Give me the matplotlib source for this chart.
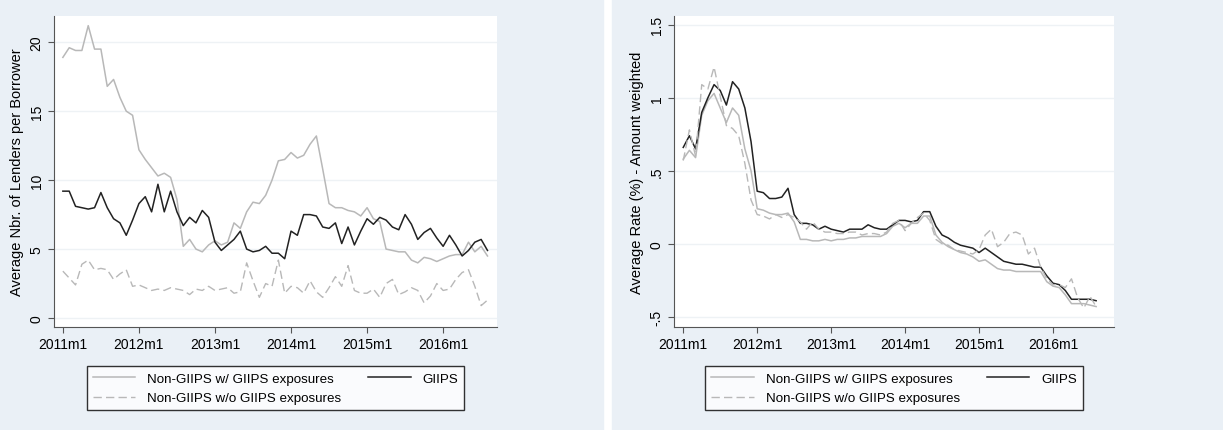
import matplotlib
matplotlib.use("Agg")
import matplotlib.pyplot as plt
import numpy as np

plt.rcParams['font.family'] = ['Liberation Sans', 'DejaVu Sans']

# monthly, 2011m1 .. 2016m8
lenders_with = [18.9, 19.6, 19.4, 19.4, 21.2, 19.5, 19.5, 16.8, 17.3, 16.0, 15.0, 14.7,
                12.2, 11.5, 10.9, 10.3, 10.5, 10.2, 8.6, 5.2, 5.7, 5.0, 4.8, 5.3,
                5.6, 5.3, 5.5, 6.9, 6.5, 7.7, 8.4, 8.3, 8.9, 10.0, 11.4, 11.5,
                12.0, 11.6, 11.8, 12.6, 13.2, 10.8, 8.3, 8.0, 8.0, 7.8, 7.7, 7.4,
                8.0, 7.2, 7.0, 5.0, 4.9, 4.8, 4.8, 4.2, 4.0, 4.4, 4.3, 4.1,
                4.3, 4.5, 4.6, 4.6, 5.5, 4.8, 5.2, 4.5]
lenders_giips = [9.2, 9.2, 8.1, 8.0, 7.9, 8.0, 9.1, 8.0, 7.2, 6.9, 6.0, 7.1,
                 8.3, 8.8, 7.7, 9.7, 7.7, 9.2, 7.7, 6.7, 7.3, 6.9, 7.8, 7.3,
                 5.5, 4.9, 5.3, 5.7, 6.3, 5.0, 4.8, 4.9, 5.2, 4.7, 4.7, 4.3,
                 6.3, 6.0, 7.5, 7.5, 7.4, 6.6, 6.5, 6.9, 5.4, 6.6, 5.3, 6.3,
                 7.2, 6.8, 7.3, 7.1, 6.6, 6.4, 7.5, 6.8, 5.7, 6.2, 6.5, 5.8,
                 5.2, 6.0, 5.3, 4.5, 4.9, 5.5, 5.7, 4.9]
lenders_without = [3.4, 2.9, 2.4, 3.9, 4.2, 3.5, 3.6, 3.5, 2.8, 3.2, 3.5, 2.3,
                   2.4, 2.2, 2.0, 2.1, 2.0, 2.2, 2.1, 2.0, 1.7, 2.1, 2.0, 2.3,
                   2.0, 2.1, 2.2, 1.8, 1.9, 4.0, 2.7, 1.5, 2.5, 2.3, 4.2, 1.8,
                   2.3, 2.2, 1.8, 2.7, 1.9, 1.5, 2.2, 3.0, 2.3, 3.8, 2.0, 1.8,
                   1.8, 2.1, 1.5, 2.5, 2.8, 1.7, 1.9, 2.2, 2.0, 1.1, 1.6, 2.5,
                   2.0, 2.1, 2.8, 3.3, 3.5, 2.3, 0.9, 1.3]

rate_with = [0.58, 0.64, 0.59, 0.88, 0.98, 1.03, 0.93, 0.83, 0.93, 0.88, 0.65, 0.50,
             0.24, 0.23, 0.21, 0.20, 0.20, 0.21, 0.15, 0.03, 0.03, 0.02, 0.02, 0.03,
             0.02, 0.03, 0.03, 0.04, 0.04, 0.05, 0.05, 0.05, 0.05, 0.07, 0.12, 0.14,
             0.11, 0.14, 0.14, 0.19, 0.19, 0.06, 0.01, -0.02, -0.04, -0.06, -0.07, -0.09,
             -0.12, -0.11, -0.14, -0.17, -0.18, -0.18, -0.19, -0.19, -0.19, -0.19, -0.19, -0.26,
             -0.29, -0.30, -0.35, -0.41, -0.41, -0.41, -0.42, -0.43]
rate_giips = [0.66, 0.74, 0.65, 0.90, 1.00, 1.09, 1.05, 0.95, 1.11, 1.06, 0.93, 0.70,
              0.36, 0.35, 0.31, 0.31, 0.32, 0.38, 0.20, 0.14, 0.14, 0.13, 0.10, 0.12,
              0.10, 0.09, 0.08, 0.10, 0.10, 0.10, 0.13, 0.11, 0.10, 0.10, 0.13, 0.16,
              0.16, 0.15, 0.16, 0.22, 0.22, 0.12, 0.06, 0.04, 0.01, -0.01, -0.02, -0.03,
              -0.06, -0.03, -0.06, -0.09, -0.12, -0.13, -0.14, -0.14, -0.15, -0.16, -0.16, -0.22,
              -0.27, -0.28, -0.32, -0.38, -0.38, -0.38, -0.38, -0.39]
rate_without = [0.57, 0.78, 0.60, 1.09, 1.06, 1.21, 1.01, 0.81, 0.79, 0.74, 0.55, 0.30,
                0.20, 0.19, 0.17, 0.20, 0.18, 0.20, 0.18, 0.15, 0.10, 0.15, 0.10, 0.08,
                0.08, 0.07, 0.07, 0.08, 0.08, 0.06, 0.07, 0.07, 0.06, 0.08, 0.14, 0.16,
                0.09, 0.14, 0.18, 0.21, 0.16, 0.03, 0.00, -0.01, -0.04, -0.05, -0.06, -0.07,
                -0.04, 0.06, 0.10, -0.02, 0.01, 0.07, 0.08, 0.06, -0.07, -0.03, -0.16, -0.24,
                -0.28, -0.28, -0.30, -0.24, -0.37, -0.44, -0.36, -0.43]

xticks = [0, 12, 24, 36, 48, 60]
xtick_labels = ["2011m1", "2012m1", "2013m1", "2014m1", "2015m1", "2016m1"]

W, H = 1223, 431
bg = "#eaf0f6"
fig = plt.figure(figsize=(W / 100, H / 100), dpi=100, facecolor="white")
# panel backgrounds
fig.patches.append(plt.Rectangle((0, 0), 603 / W, 1, transform=fig.transFigure, color=bg, zorder=-1))
fig.patches.append(plt.Rectangle((612 / W, 0), (W - 612) / W, 1, transform=fig.transFigure, color=bg, zorder=-1))


def panel(left, right, series, ylim, yticks, ylabels, ylabel, xlim):
    ax = fig.add_axes([left / W, (H - 328) / H, (right - left) / W, 311 / H])
    ax.set_facecolor("white")
    l1, = ax.plot(np.arange(len(series[0])), series[0], color="#b8b8b8", lw=1.1)
    l2, = ax.plot(np.arange(len(series[1])), series[1], color="#222222", lw=1.1)
    l3, = ax.plot(np.arange(len(series[2])), series[2], color="#b8b8b8", lw=1.0, ls=(0, (6, 3)))
    ax.set_xlim(*xlim)
    ax.set_ylim(*ylim)
    ax.set_yticks(yticks)
    ax.set_yticklabels(ylabels, rotation=90, va="center")
    ax.set_xticks(xticks)
    ax.set_xticklabels(xtick_labels)
    ax.tick_params(labelsize=10, color="#555555", length=4)
    ax.grid(axis="y", color="#eef2f5", lw=1)
    ax.set_axisbelow(True)
    for s in ["top", "right"]:
        ax.spines[s].set_visible(False)
    ax.spines["left"].set_color("#555555")
    ax.spines["bottom"].set_color("#555555")
    ax.set_ylabel(ylabel, fontsize=10.5)
    leg = ax.legend([l1, l3, l2], ["Non-GIIPS w/ GIIPS exposures", "Non-GIIPS w/o GIIPS exposures", "GIIPS"],
                    ncol=2, loc="upper center", bbox_to_anchor=(0.5, -0.105), fancybox=False,
                    edgecolor="black", fontsize=9.6, handlelength=3.2, columnspacing=2.0,
                    borderpad=0.45, labelspacing=0.55, handletextpad=0.9)
    leg.get_frame().set_linewidth(1.0)
    return ax


panel(54, 497, [lenders_with, lenders_giips, lenders_without], (-0.65, 21.9),
      [0, 5, 10, 15, 20], ["0", "5", "10", "15", "20"],
      "Average Nbr. of Lenders per Borrower", (-1.4, 68.5))
panel(674, 1114, [rate_with, rate_giips, rate_without], (-0.57, 1.56),
      [-0.5, 0, 0.5, 1, 1.5], ["-.5", "0", ".5", "1", "1.5"],
      "Average Rate (%) - Amount weighted", (-1.5, 69.9))

fig.savefig("out.png", dpi=100, facecolor=fig.get_facecolor())
